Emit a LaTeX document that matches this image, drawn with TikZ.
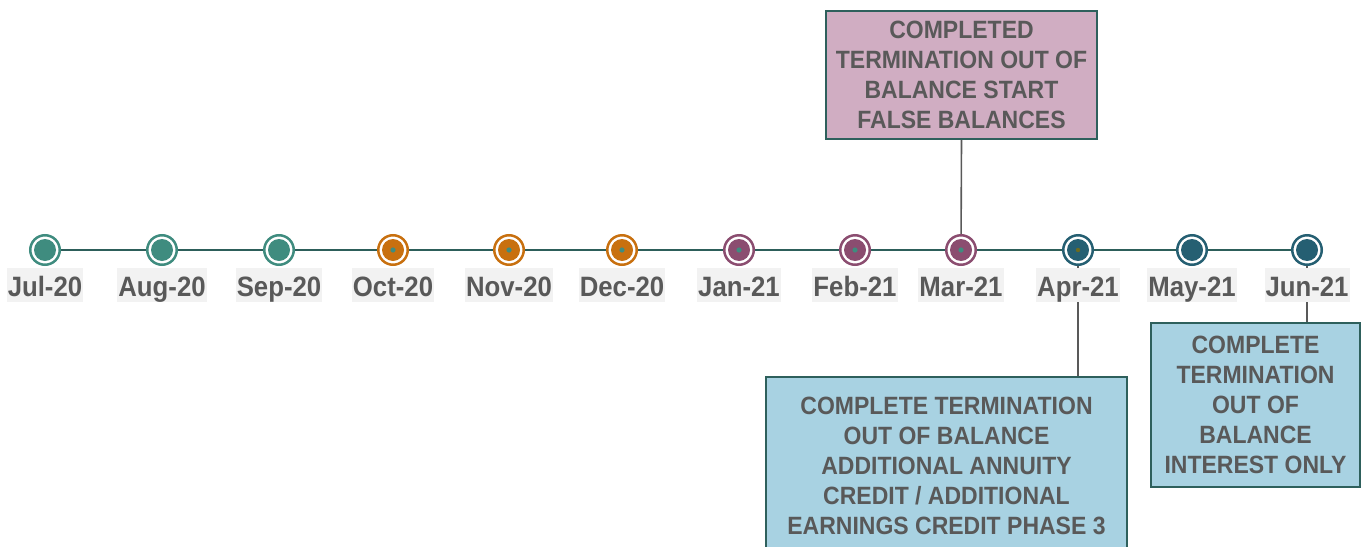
\documentclass[tikz,border=0pt]{standalone}
\usepackage{fontspec}
\setmainfont{Liberation Sans}[FakeStretch=0.92]
\definecolor{cteal}{HTML}{3F8C7F}
\definecolor{corange}{HTML}{C8700F}
\definecolor{cpurple}{HTML}{8B4D70}
\definecolor{cblue}{HTML}{255F72}
\definecolor{colive}{HTML}{6B6B20}
\definecolor{cline}{HTML}{2D5E5A}
\definecolor{lbg}{HTML}{F2F2F2}
\definecolor{tgray}{HTML}{595959}
\definecolor{cmauve}{HTML}{D0ADC2}
\definecolor{clblue}{HTML}{A8D2E2}
\definecolor{cborder}{HTML}{2E605C}
\begin{document}
\begin{tikzpicture}[x=1pt,y=-1pt,
  marker/.style={circle, minimum size=29.5pt, inner sep=0pt, draw=#1, line width=2.5pt, fill=white},
  datelabel/.style={fill=lbg, text=tgray, font=\fontsize{28}{30}\selectfont\bfseries, inner xsep=1pt, inner ysep=0pt, text height=28pt, text depth=6pt, anchor=base},
  eventbox/.style={draw=cborder, line width=2pt, fill=#1, text=tgray, font=\fontsize{25}{30}\selectfont\bfseries, align=center, inner sep=0pt},
  conn/.style={draw=tgray, line width=1.6pt}
]
\useasboundingbox (0,0) rectangle (1367,546);
\clip (0,0) rectangle (1367,546);

% markers (positions)
\foreach \i/\x/\c in {1/45/cteal,2/162/cteal,3/279/cteal,4/393/corange,5/509/corange,6/622/corange,7/739/cpurple,8/855/cpurple,9/961/cpurple,10/1078/cblue,11/1192/cblue,12/1307/cblue}
  \coordinate (p\i) at (\x,250);

% event boxes
\node[eventbox=cmauve, minimum width=271pt, minimum height=128pt] (marbox) at (961.5,75)
  {COMPLETED\\TERMINATION OUT OF\\BALANCE START\\FALSE BALANCES};
\node[eventbox=clblue, minimum width=361pt, minimum height=177pt] (aprbox) at (946.5,465.5)
  {COMPLETE TERMINATION\\OUT OF BALANCE\\ADDITIONAL ANNUITY\\CREDIT / ADDITIONAL\\EARNINGS CREDIT PHASE 3};
\node[eventbox=clblue, minimum width=209pt, minimum height=164pt] (junbox) at (1255.5,405)
  {COMPLETE\\TERMINATION\\OUT OF\\BALANCE\\INTEREST ONLY};

% timeline
\draw[cline, line width=2.2pt] (p1) -- (p12);

% connectors
\draw[conn] (marbox.south) -- (p9);
\draw[conn] (p10) -- (aprbox.north -| p10);
\draw[conn] (p12) -- (junbox.north -| p12);

% date labels
\foreach \i/\t in {1/Jul-20,2/Aug-20,3/Sep-20,4/Oct-20,5/Nov-20,6/Dec-20,7/Jan-21,8/Feb-21,9/Mar-21,10/Apr-21,11/May-21,12/Jun-21}
  \node[datelabel] (l\i) at ([yshift=-46pt]p\i) {\t};

% marker circles
\foreach \i/\c in {1/cteal,2/cteal,3/cteal,4/corange,5/corange,6/corange,7/cpurple,8/cpurple,9/cpurple,10/cblue,11/cblue,12/cblue} {
  \node[marker=\c] (m\i) at (p\i) {};
  \fill[\c] (m\i.center) circle (11pt);
}
% small centre dots
\foreach \i in {4,5,6,7,8,9}
  \fill[cteal] (m\i.center) circle (2.6pt);
\fill[colive] (m10.center) circle (2.2pt);
\end{tikzpicture}
\end{document}
